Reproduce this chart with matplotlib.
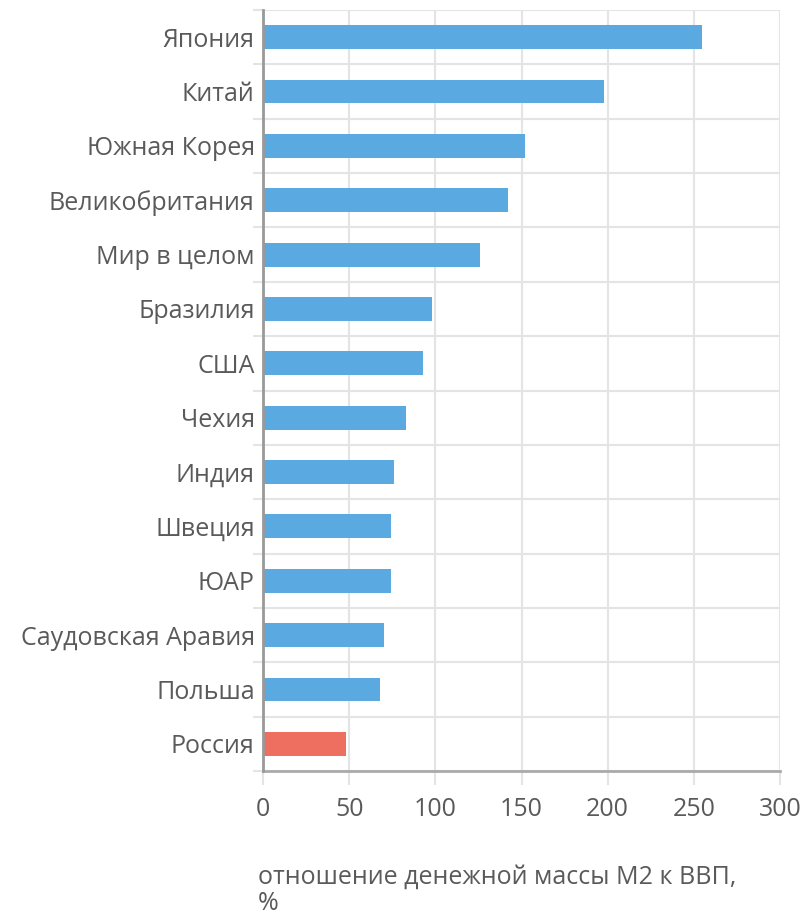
import numpy as np
import matplotlib
matplotlib.use("Agg")
import matplotlib.pyplot as plt

# M2 / GDP ratio, %
countries = ["Япония", "Китай", "Южная Корея", "Великобритания", "Мир в целом",
             "Бразилия", "США", "Чехия", "Индия", "Швеция", "ЮАР",
             "Саудовская Аравия", "Польша", "Россия"]
values = [255, 198, 152, 142, 126, 98, 93, 83, 76, 74, 74, 70, 68, 48]
highlight = "Россия"
x_ticks = [0, 50, 100, 150, 200, 250, 300]
x_label = "отношение денежной массы М2 к ВВП,\n%"

blue = "#5aa9e0"
red = "#ee6f60"
grid_col = "#e4e4e4"
text_col = "#5a5a5a"

plt.rcParams['font.family'] = ['Open Sans', 'DejaVu Sans']

fig = plt.figure(figsize=(8.08, 9.16), dpi=100)
ax = fig.add_axes([263 / 808, 1 - 771 / 916, (780 - 263) / 808, (771 - 10) / 916])

y = np.arange(len(countries))
colors = [red if c == highlight else blue for c in countries]
ax.barh(y, values, height=0.44, color=colors, zorder=3)

ax.set_xlim(0, 300)
ax.set_ylim(len(countries) - 0.5, -0.5)

ax.set_yticks(y)
ax.set_yticklabels(countries)
ax.set_yticks(np.arange(-0.5, len(countries)), minor=True)
ax.tick_params(axis='y', which='major', length=0, pad=6, labelsize=18, labelcolor=text_col)
ax.tick_params(axis='y', which='minor', length=7, width=1.5, color=grid_col)

ax.set_xticks(x_ticks)
ax.tick_params(axis='x', which='major', length=10, width=1.5, color=grid_col,
               pad=9, labelsize=18, labelcolor=text_col)
ax.get_xticklines()[0].set_color("#999999")

ax.grid(True, axis='x', which='major', color=grid_col, linewidth=1.5, zorder=0)
ax.grid(True, axis='y', which='minor', color=grid_col, linewidth=1.5, zorder=0)

for side in ['top', 'right']:
    ax.spines[side].set_visible(False)
ax.spines['left'].set_color("#999999")
ax.spines['left'].set_linewidth(2)
ax.spines['bottom'].set_color("#aaaaaa")
ax.spines['bottom'].set_linewidth(2)
ax.spines['left'].set_zorder(4)

fig.text(258 / 808, 1 - 865 / 916, x_label, ha='left', va='top',
         fontsize=18, color=text_col, linespacing=1.05)

fig.savefig("out.png", dpi=100, facecolor="white")
